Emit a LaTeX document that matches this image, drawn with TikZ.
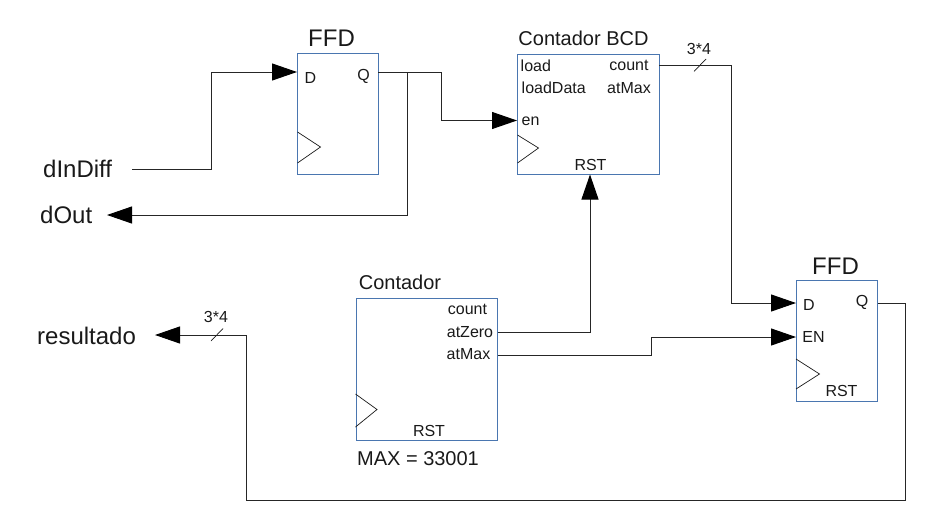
\documentclass[tikz,border=0pt]{standalone}
\usepackage{fontspec}
\setmainfont{Liberation Sans}
\usetikzlibrary{arrows.meta}
\definecolor{boxblue}{HTML}{4A76B0}
\tikzset{
  block/.style={draw=boxblue,line width=0.9pt,minimum width=#1,inner sep=0pt,anchor=north west},
  wire/.style={draw=black!85,line width=1pt},
  wirearrow/.style={wire,-{Triangle[length=25pt,width=17pt,fill=black,color=black]}},
  clock/.style={draw=black!90,line width=0.7pt},
  port/.style={font=\fontsize{16}{18}\selectfont,inner sep=0pt,text=black!90},
  title/.style={font=\fontsize{20}{22}\selectfont,inner sep=0pt,text=black!90},
  bigtitle/.style={font=\fontsize{24}{26}\selectfont,inner sep=0pt,text=black!90},
  signal/.style={font=\fontsize{24}{26}\selectfont,inner sep=0pt,text=black!90},
  buslabel/.style={font=\fontsize{16}{18}\selectfont,inner sep=0pt,text=black!90},
  slash/.style={draw=black!90,line width=0.7pt}
}
\begin{document}
\begin{tikzpicture}[x=1pt,y=-1pt]
\useasboundingbox (0,0) rectangle (939,525);
% blocks
\node[block=80.5pt,minimum height=121pt] (ffdA) at (297,53) {};
\node[block=141.5pt,minimum height=120.5pt] (bcd) at (517,53.5) {};
\node[block=81pt,minimum height=121pt] (ffdB) at (796,280) {};
\node[block=141.5pt,minimum height=142.5pt] (cnt) at (355.5,297.5) {};
% clock triangles
\draw[clock] (297.5,132) -- (320.5,147) -- (297.5,163);
\draw[clock] (517.5,135) -- (538.5,148) -- (517.5,163);
\draw[clock] (796,359) -- (819.5,374) -- (796,389);
\draw[clock] (355.5,394) -- (377,409.5) -- (355.5,427);
% titles
\node[bigtitle,anchor=center] (tA) at (331.5,38) {FFD};
\node[title,anchor=center] (tB) at (583.5,38.5) {Contador BCD};
\node[bigtitle,anchor=center] (tC) at (835.5,266) {FFD};
\node[title,anchor=center] (tD) at (400,282.5) {Contador};
\node[title,anchor=center] (tE) at (418,458.5) {MAX = 33001};
% ports
\node[port,anchor=center] (pAd) at (310.5,77.5) {D};
\node[port,anchor=center] (pAq) at (363.5,76) {Q};
\node[port,anchor=west] (pBl) at (520.5,65.5) {load};
\node[port,anchor=west] (pBd) at (521.5,88) {loadData};
\node[port,anchor=west] (pBe) at (521.5,121) {en};
\node[port,anchor=center] (pBc) at (629,65.5) {count};
\node[port,anchor=center] (pBm) at (629,88) {atMax};
\node[port,anchor=center] (pBr) at (590.5,164.5) {RST};
\node[port,anchor=center] (pCd) at (809,304.5) {D};
\node[port,anchor=center] (pCe) at (813.5,337) {EN};
\node[port,anchor=center] (pCq) at (862,302.5) {Q};
\node[port,anchor=center] (pCr) at (841.5,390.5) {RST};
\node[port,anchor=center] (pDc) at (467.5,309) {count};
\node[port,anchor=center] (pDz) at (470,332) {atZero};
\node[port,anchor=center] (pDm) at (468.5,354.5) {atMax};
\node[port,anchor=center] (pDr) at (429,430.5) {RST};
% signals
\node[signal,anchor=west] (sIn) at (43,169) {dInDiff};
\node[signal,anchor=west] (sOut) at (40,214.5) {dOut};
\node[signal,anchor=west] (sRes) at (37,336) {resultado};
% connector ends and bends
\coordinate (inEnd) at (132,169);
\coordinate (qTap) at (407,72);
\coordinate (dOutTip) at (107,215);
\coordinate (resTip) at (155,335);
% connectors
\draw[wirearrow] (inEnd) -- (211,169) -- (211,72) -- (ffdA.west |- 0,72);
\draw[wirearrow] (ffdA.east |- qTap) -- (441,72) -- (441,120.5) -- (bcd.west |- 0,120.5);
\draw[wirearrow] (qTap) -- (407,215) -- (dOutTip);
\draw[wirearrow] (bcd.east |- 0,65.5) -- (731,65.5) -- (731,303) -- (ffdB.west |- 0,303);
\draw[wirearrow] (cnt.east |- 0,332.5) -- (590,332.5) -- (590,174.5);
\draw[wirearrow] (cnt.east |- 0,355) -- (651,355) -- (651,337) -- (ffdB.west |- 0,337);
\draw[wirearrow] (ffdB.east |- 0,303) -- (905.5,303) -- (905.5,500) -- (246.5,500) -- (246.5,335) -- (resTip);
% bus marks
\draw[slash] (694,71.5) -- (706,59);
\draw[slash] (211,341) -- (223,328.5);
\node[buslabel,anchor=center] (b1) at (699,48.5) {3*4};
\node[buslabel,anchor=center] (b2) at (216,316.5) {3*4};
\end{tikzpicture}
\end{document}
